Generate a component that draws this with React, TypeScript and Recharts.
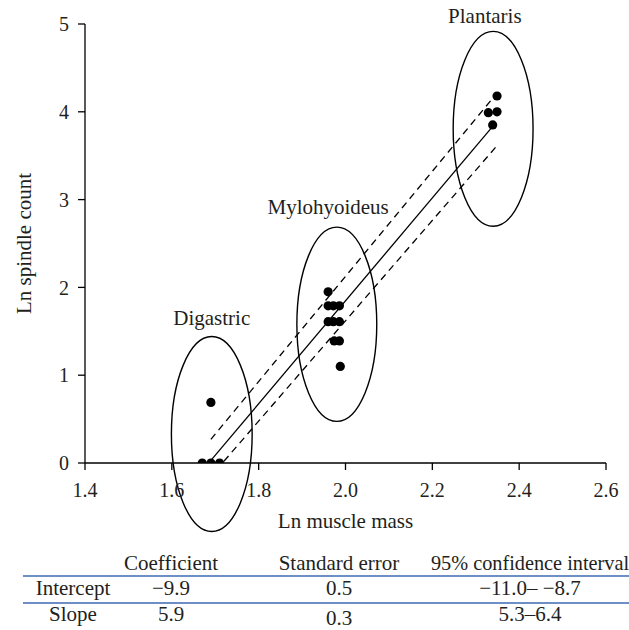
import React from 'react';
import {
  ScatterChart,
  Scatter,
  XAxis,
  YAxis,
  ReferenceArea,
  ReferenceLine,
  ReferenceDot,
} from 'recharts';

const FONT = '"Liberation Serif", "DejaVu Serif", serif';
const INK = '#231f20';

const xTicks = [1.4, 1.6, 1.8, 2.0, 2.2, 2.4, 2.6];
const yTicks = [0, 1, 2, 3, 4, 5];

const digastric = [
  { x: 1.67, y: 0 },
  { x: 1.69, y: 0 },
  { x: 1.71, y: 0 },
  { x: 1.69, y: 0.69 },
];

const mylohyoideus = [
  { x: 1.96, y: 1.95 },
  { x: 1.96, y: 1.79 },
  { x: 1.972, y: 1.79 },
  { x: 1.986, y: 1.79 },
  { x: 1.96, y: 1.61 },
  { x: 1.972, y: 1.61 },
  { x: 1.986, y: 1.61 },
  { x: 1.974, y: 1.39 },
  { x: 1.986, y: 1.39 },
  { x: 1.988, y: 1.1 },
];

const plantaris = [
  { x: 2.349, y: 4.18 },
  { x: 2.329, y: 3.99 },
  { x: 2.349, y: 4.0 },
  { x: 2.339, y: 3.85 },
];

// regression line and 95% band, end points
const fitLine = [{ x: 1.69, y: 0.03 }, { x: 2.34, y: 3.84 }];
const upperBand = [{ x: 1.69, y: 0.27 }, { x: 2.34, y: 4.16 }];
const lowerBand = [{ x: 1.72, y: 0.02 }, { x: 2.35, y: 3.62 }];

// group ellipses: centre and half-axes in data units
const groupEllipses = [
  { cx: 1.692, cy: 0.33, rx: 0.093, ry: 1.11 },
  { cx: 1.98, cy: 1.58, rx: 0.092, ry: 1.106 },
  { cx: 2.34, cy: 3.806, rx: 0.092, ry: 1.11 },
];

const groupLabels = [
  { name: 'Digastric', x: 1.692, y: 1.66 },
  { name: 'Mylohyoideus', x: 1.96, y: 2.92 },
  { name: 'Plantaris', x: 2.321, y: 5.1 },
];

const tableHeader = ['Coefficient', 'Standard error', '95% confidence interval'];
const tableRows = [
  ['Intercept', '\u22129.9', '0.5', '\u221211.0\u2013 \u22128.7'],
  ['Slope', '5.9', '0.3', '5.3\u20136.4'],
];

const Dot = (p: any) => <circle cx={p.cx} cy={p.cy} r={4.6} fill="#000" />;

const EllipseShape = (p: any) => (
  <ellipse
    cx={p.x + p.width / 2}
    cy={p.y + p.height / 2}
    rx={Math.abs(p.width) / 2}
    ry={Math.abs(p.height) / 2}
    fill="none"
    stroke="#000"
    strokeWidth={1.4}
  />
);

const colX = [73, 171, 339, 530];

export default function App() {
  return (
    <div
      style={{
        position: 'fixed',
        left: 0,
        top: 0,
        width: 629,
        height: 630,
        overflow: 'hidden',
        background: '#fff',
        fontFamily: FONT,
        color: INK,
      }}
    >
      <ScatterChart width={629} height={545} margin={{ top: 24, right: 23, left: 0, bottom: 0 }}>
        <XAxis
          type="number"
          dataKey="x"
          domain={[1.4, 2.6]}
          ticks={xTicks}
          tickFormatter={(v) => Number(v).toFixed(1)}
          height={82}
          tickSize={7}
          tickMargin={13}
          stroke="#000"
          strokeWidth={1.3}
          tick={{ fill: INK, fontSize: 20, fontFamily: FONT }}
          allowDataOverflow
          label={{ value: 'Ln muscle mass', position: 'insideBottom', offset: 17, fill: INK, fontSize: 21, fontFamily: FONT }}
        />
        <YAxis
          type="number"
          dataKey="y"
          domain={[0, 5]}
          ticks={yTicks}
          width={85}
          tickSize={7}
          tickMargin={9}
          stroke="#000"
          strokeWidth={1.3}
          tick={{ fill: INK, fontSize: 20, fontFamily: FONT }}
          allowDataOverflow
          label={{
            content: ({ viewBox }: any) => {
              const cx = viewBox.x + 24;
              const cy = viewBox.y + viewBox.height / 2;
              return (
                <text x={cx} y={cy} transform={`rotate(-90 ${cx} ${cy})`} textAnchor="middle" dominantBaseline="central" fill={INK} fontSize={21} fontFamily={FONT}>
                  Ln spindle count
                </text>
              );
            },
          }}
        />
        {groupEllipses.map((e, i) => (
          <ReferenceArea
            key={'e' + i}
            x1={e.cx - e.rx}
            x2={e.cx + e.rx}
            y1={e.cy - e.ry}
            y2={e.cy + e.ry}
            ifOverflow="visible"
            shape={EllipseShape}
          />
        ))}
        <ReferenceLine segment={fitLine} stroke="#000" strokeWidth={1.3} ifOverflow="visible" />
        <ReferenceLine segment={upperBand} stroke="#000" strokeWidth={1.3} strokeDasharray="7 5" ifOverflow="visible" />
        <ReferenceLine segment={lowerBand} stroke="#000" strokeWidth={1.3} strokeDasharray="7 5" ifOverflow="visible" />
        {groupLabels.map((g) => (
          <ReferenceDot
            key={g.name}
            x={g.x}
            y={g.y}
            r={1}
            fill="none"
            stroke="none"
            ifOverflow="visible"
            label={{ value: g.name, position: 'center', fill: INK, fontSize: 21, fontFamily: FONT }}
          />
        ))}
        <Scatter data={digastric} shape={Dot} isAnimationActive={false} />
        <Scatter data={mylohyoideus} shape={Dot} isAnimationActive={false} />
        <Scatter data={plantaris} shape={Dot} isAnimationActive={false} />
      </ScatterChart>

      {tableHeader.map((h, i) => (
        <span
          key={h}
          style={{
            position: 'absolute',
            left: colX[i + 1],
            top: 563,
            transform: 'translate(-50%, -50%)',
            fontSize: i === 2 ? 20.3 : 21,
            lineHeight: '20px',
            whiteSpace: 'nowrap',
          }}
        >
          {h}
        </span>
      ))}
      <div style={{ position: 'absolute', left: 23, top: 575, width: 606, height: 1.5, background: '#6d8fc6' }} />
      <div style={{ position: 'absolute', left: 23, top: 602, width: 606, height: 1.5, background: '#6d8fc6' }} />
      {tableRows.map((row, r) =>
        row.map((cell, c) => (
          <span
            key={r + '-' + c}
            style={{
              position: 'absolute',
              left: colX[c],
              top: r === 0 ? 588 : c === 2 ? 617.5 : 614,
              transform: 'translate(-50%, -50%)',
              fontSize: 21,
              lineHeight: '18px',
              whiteSpace: 'nowrap',
            }}
          >
            {cell}
          </span>
        ))
      )}
    </div>
  );
}
